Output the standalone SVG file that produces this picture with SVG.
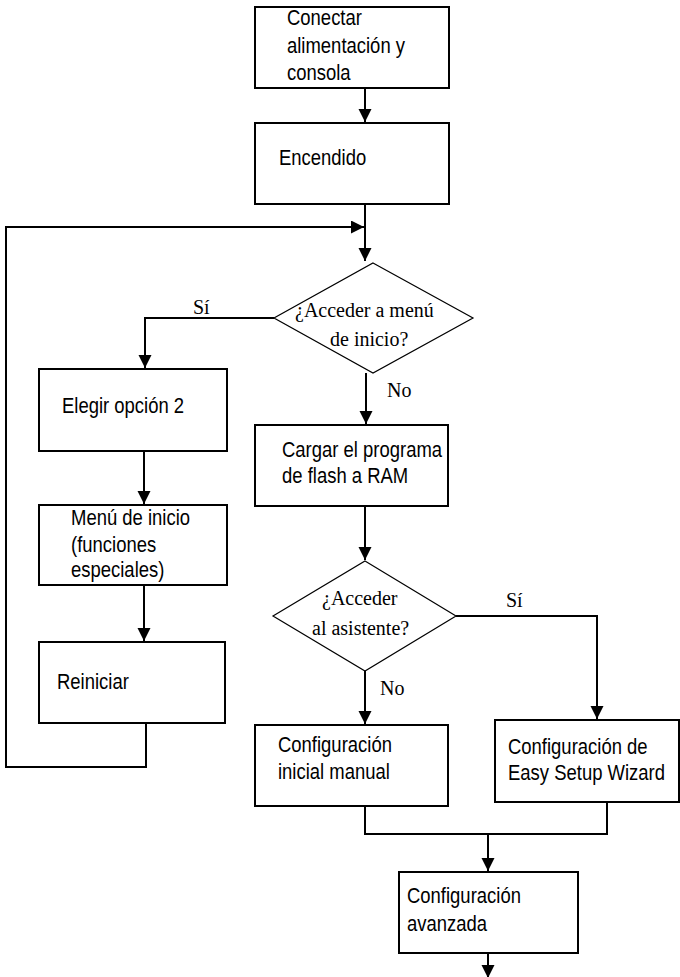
<svg xmlns="http://www.w3.org/2000/svg" width="680" height="977" viewBox="0 0 680 977">
<style>
.box{fill:#fff;stroke:#000;stroke-width:2}
.dia{fill:#fff;stroke:#000;stroke-width:1.2}
.t{font-family:"Liberation Sans",Arial,sans-serif;font-size:22px;fill:#000}
.s{font-family:"Liberation Serif","Times New Roman",serif;font-size:20px;fill:#000}
.c{fill:none;stroke:#000;stroke-width:2}
</style>
<defs>
<marker id="ah" markerWidth="14" markerHeight="14" refX="13" refY="6.5" orient="auto" markerUnits="userSpaceOnUse">
<path d="M0,0 L13,6.5 L0,13 z" fill="#000"/>
</marker>
</defs>
<rect width="680" height="977" fill="#fff"/>
<g id="connectors">
<line class="c" x1="365" y1="88" x2="365" y2="122" marker-end="url(#ah)"/>
<line class="c" x1="365" y1="204" x2="365" y2="261" marker-end="url(#ah)"/>
<polyline class="c" points="146,723 146,767 6,767 6,227 364,227" marker-end="url(#ah)"/>
<polyline class="c" points="274,318 145,318 145,368" marker-end="url(#ah)"/>
<line class="c" x1="366" y1="373" x2="366" y2="424" marker-end="url(#ah)"/>
<line class="c" x1="144" y1="451" x2="144" y2="504" marker-end="url(#ah)"/>
<line class="c" x1="144" y1="585" x2="144" y2="641" marker-end="url(#ah)"/>
<line class="c" x1="365" y1="506" x2="365" y2="560" marker-end="url(#ah)"/>
<polyline class="c" points="456,616 597,616 597,719" marker-end="url(#ah)"/>
<line class="c" x1="365" y1="671" x2="365" y2="724" marker-end="url(#ah)"/>
<polyline class="c" points="365,806 365,834 607,834 607,802"/>
<line class="c" x1="488" y1="834" x2="488" y2="871" marker-end="url(#ah)"/>
<line class="c" x1="488" y1="953" x2="488" y2="978" marker-end="url(#ah)"/>
<text class="s" x="193" y="314">Sí</text>
<text class="s" x="387" y="397">No</text>
<text class="s" x="506" y="607">Sí</text>
<text class="s" x="380" y="695">No</text>
</g>
<g id="n1">
<rect class="box" x="255" y="7" width="194" height="81"/>
<text class="t" transform="translate(287 25) scale(0.84 1)">Conectar</text>
<text class="t" transform="translate(287 53) scale(0.84 1)">alimentación y</text>
<text class="t" transform="translate(287 80) scale(0.84 1)">consola</text>
</g>
<g id="n2">
<rect class="box" x="255" y="123" width="194" height="81"/>
<text class="t" transform="translate(279 165) scale(0.84 1)">Encendido</text>
</g>
<g id="d1">
<polygon class="dia" points="373,263 473,318 373,373 274,318"/>
<text class="s" x="295" y="317">¿Acceder a menú</text>
<text class="s" x="330" y="346">de inicio?</text>
</g>
<g id="n3">
<rect class="box" x="39" y="369" width="188" height="82"/>
<text class="t" transform="translate(62 413) scale(0.84 1)">Elegir opción 2</text>
</g>
<g id="n4">
<rect class="box" x="39" y="505" width="188" height="80"/>
<text class="t" transform="translate(71 525) scale(0.84 1)">Menú de inicio</text>
<text class="t" transform="translate(71 552) scale(0.84 1)">(funciones</text>
<text class="t" transform="translate(71 577) scale(0.84 1)">especiales)</text>
</g>
<g id="n5">
<rect class="box" x="39" y="642" width="186" height="81"/>
<text class="t" transform="translate(57 689) scale(0.84 1)">Reiniciar</text>
</g>
<g id="n6">
<rect class="box" x="255" y="425" width="193" height="81"/>
<text class="t" transform="translate(282 457) scale(0.84 1)">Cargar el programa</text>
<text class="t" transform="translate(282 483) scale(0.84 1)">de flash a RAM</text>
</g>
<g id="d2">
<polygon class="dia" points="365,561 456,616 365,671 273,616"/>
<text class="s" x="322" y="605">¿Acceder</text>
<text class="s" x="312" y="635">al asistente?</text>
</g>
<g id="n7">
<rect class="box" x="255" y="725" width="193" height="81"/>
<text class="t" transform="translate(278 752) scale(0.84 1)">Configuración</text>
<text class="t" transform="translate(278 779) scale(0.84 1)">inicial manual</text>
</g>
<g id="n8">
<rect class="box" x="495" y="720" width="184" height="82"/>
<text class="t" transform="translate(508 754) scale(0.84 1)">Configuración de</text>
<text class="t" transform="translate(508 780) scale(0.84 1)">Easy Setup Wizard</text>
</g>
<g id="n9">
<rect class="box" x="399" y="872" width="179" height="81"/>
<text class="t" transform="translate(407 903) scale(0.84 1)">Configuración</text>
<text class="t" transform="translate(407 931) scale(0.84 1)">avanzada</text>
</g>
</svg>
